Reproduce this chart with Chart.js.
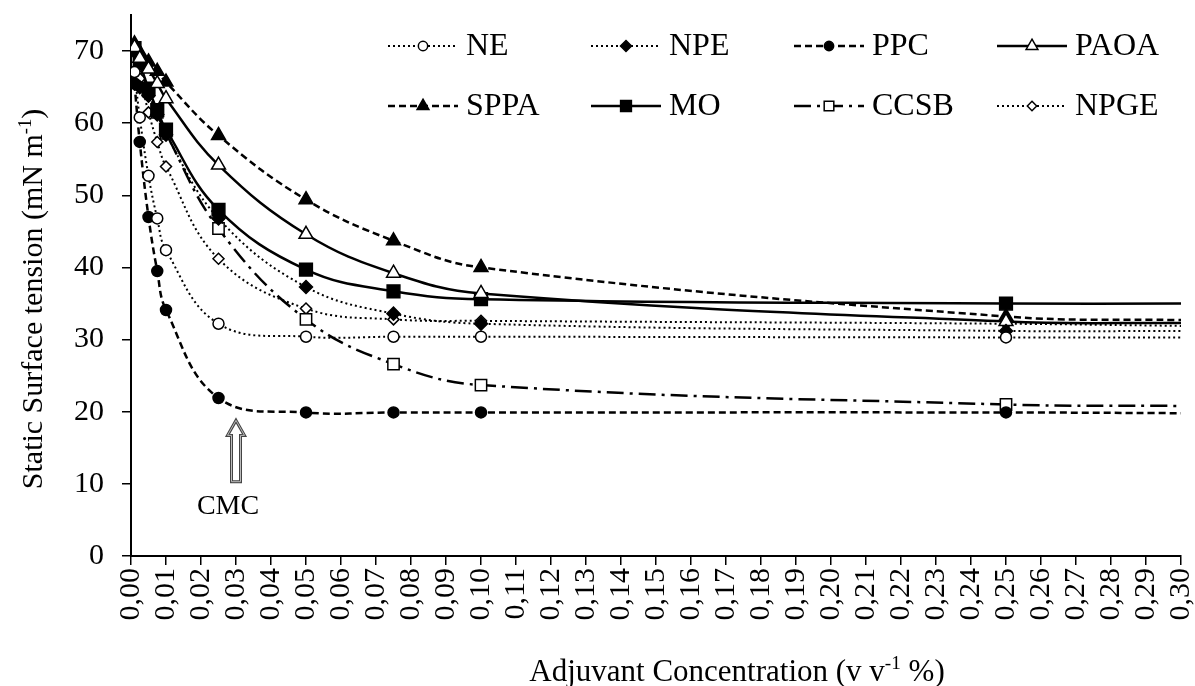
<!DOCTYPE html>
<html lang="en">
<head>
  <meta charset="UTF-8">
  <title>Static surface tension vs adjuvant concentration</title>
  <script src="https://cdn.jsdelivr.net/npm/chart.js"></script>
  <style>
    html, body { margin: 0; padding: 0; background: #fff; }
  </style>
</head>
<body>
  <canvas id="tensionChart" width="1195" height="686"></canvas>

  <script>
    // concentration (v v-1 %), last point is where the curves leave the plot
    const concentrations = [0.001, 0.0025, 0.005, 0.0075, 0.01, 0.025, 0.05, 0.075, 0.10, 0.25, 0.30];

    // static surface tension (mN m-1)
    const ne   = [67.1, 60.8, 52.7, 46.8, 42.4, 32.2, 30.4, 30.4, 30.4, 30.3, 30.3];
    const npe  = [65.5, 65.0, 63.8, 61.2, 58.4, 46.8, 37.3, 33.6, 32.2, 31.2, 31.2];
    const ppc  = [65.5, 57.4, 47.0, 39.5, 34.1, 21.9, 19.9, 19.9, 19.9, 19.9, 19.8];
    const paoa = [70.5, 69.0, 67.5, 65.5, 63.4, 54.2, 44.6, 39.2, 36.4, 32.5, 32.3];
    const sppa = [71.0, 69.8, 68.5, 67.2, 65.7, 58.3, 49.4, 43.7, 40.0, 33.2, 32.7];
    const mo   = [70.4, 68.3, 64.8, 61.8, 59.1, 48.0, 39.7, 36.7, 35.6, 35.0, 35.0];
    const ccsb = [70.2, 68.0, 64.5, 61.5, 58.6, 45.4, 32.8, 26.6, 23.7, 21.0, 20.8];
    const npge = [67.3, 66.2, 61.5, 57.4, 54.0, 41.2, 34.3, 32.8, 32.6, 32.2, 31.9];

    const seriesNames = ['NE', 'NPE', 'PPC', 'PAOA', 'SPPA', 'MO', 'CCSB', 'NPGE'];
    const seriesValues = [ne, npe, ppc, paoa, sppa, mo, ccsb, npge];

    const xTickStep = 0.01;
    const yTickStep = 10;
    const cmcConcentration = 0.030;

    const serif = '"Liberation Serif", "Times New Roman", serif';
    const DOT = [2, 3], DASH = [7, 4], SOLID = [], DASHDOT = [17, 6, 3, 6];

    const looks = {
      NE:   { dash: DOT,     width: 2,   point: 'circle',   r: 5.5, fill: '#fff' },
      NPE:  { dash: DOT,     width: 2,   point: 'rectRot',  r: 6.5, fill: '#000' },
      PPC:  { dash: DASH,    width: 2.5, point: 'circle',   r: 5.5, fill: '#000' },
      PAOA: { dash: SOLID,   width: 2.5, point: 'triangle', r: 8,   fill: '#fff' },
      SPPA: { dash: DASH,    width: 2.5, point: 'triangle', r: 8,   fill: '#000' },
      MO:   { dash: SOLID,   width: 2.5, point: 'rect',     r: 9,   fill: '#000' },
      CCSB: { dash: DASHDOT, width: 2.5, point: 'rect',     r: 8,   fill: '#fff' },
      NPGE: { dash: DOT,     width: 2,   point: 'rectRot',  r: 5.5, fill: '#fff' },
    };

    const lastIndex = concentrations.length - 1;

    const datasets = seriesNames.map((name, i) => {
      const lk = looks[name];
      return {
        label: name,
        data: concentrations.map((c, j) => ({ x: c, y: seriesValues[i][j] })),
        borderColor: '#000',
        borderWidth: lk.width,
        borderDash: lk.dash,
        tension: 0.4,
        fill: false,
        pointStyle: lk.point,
        pointRadius: (ctx) => ctx.dataIndex === lastIndex ? 0 : lk.r,
        pointBackgroundColor: lk.fill,
        pointBorderColor: '#000',
        pointBorderWidth: 1.5,
      };
    });

    // text with a superscript part, centred on cx
    function drawSupText(ctx, pieces, size, cx, baseline) {
      const widths = pieces.map(p => {
        ctx.font = (p.sup ? size * 0.62 : size) + 'px ' + serif;
        return ctx.measureText(p.text).width;
      });
      let x = cx - widths.reduce((a, b) => a + b, 0) / 2;
      pieces.forEach((p, i) => {
        ctx.font = (p.sup ? size * 0.62 : size) + 'px ' + serif;
        ctx.fillText(p.text, x, p.sup ? baseline - size * 0.38 : baseline);
        x += widths[i];
      });
    }

    function marker(ctx, style, x, y, r, fill) {
      ctx.save();
      ctx.setLineDash([]);
      ctx.lineWidth = 1.5;
      ctx.strokeStyle = '#000';
      ctx.fillStyle = fill;
      ctx.beginPath();
      if (style === 'circle') {
        ctx.arc(x, y, r, 0, Math.PI * 2);
      } else if (style === 'rect') {
        const s = r * Math.SQRT1_2;
        ctx.rect(x - s, y - s, 2 * s, 2 * s);
      } else if (style === 'rectRot') {
        ctx.moveTo(x, y - r); ctx.lineTo(x + r, y); ctx.lineTo(x, y + r); ctx.lineTo(x - r, y);
        ctx.closePath();
      } else if (style === 'triangle') {
        ctx.moveTo(x, y - r);
        ctx.lineTo(x + r * Math.sin(Math.PI * 2 / 3), y + r / 2);
        ctx.lineTo(x - r * Math.sin(Math.PI * 2 / 3), y + r / 2);
        ctx.closePath();
      }
      ctx.fill();
      ctx.stroke();
      ctx.restore();
    }

    const extras = {
      id: 'extras',
      afterDraw(chart) {
        const ctx = chart.ctx;
        ctx.save();
        ctx.fillStyle = '#000';
        ctx.textAlign = 'left';
        ctx.textBaseline = 'alphabetic';

        // axis titles
        ctx.save();
        ctx.translate(42, 299);
        ctx.rotate(-Math.PI / 2);
        drawSupText(ctx, [{ text: 'Static Surface tension (mN m' }, { text: '-1', sup: true }, { text: ')' }], 30, 0, 0);
        ctx.restore();
        drawSupText(ctx, [{ text: 'Adjuvant Concentration (v v' }, { text: '-1', sup: true }, { text: ' %)' }], 31, 737, 681);

        // legend, 4 columns x 2 rows
        const colX = [388, 591, 794, 997];
        const rowY = [46, 106];
        const sampleLen = 70;
        seriesNames.forEach((name, i) => {
          const lk = looks[name];
          const x0 = colX[i % 4], y0 = rowY[Math.floor(i / 4)];
          ctx.save();
          ctx.strokeStyle = '#000';
          ctx.lineWidth = lk.width;
          ctx.setLineDash(lk.dash);
          ctx.beginPath();
          ctx.moveTo(x0, y0);
          ctx.lineTo(x0 + sampleLen, y0);
          ctx.stroke();
          ctx.restore();
          marker(ctx, lk.point, x0 + sampleLen / 2, y0, lk.r * 0.85, lk.fill);
          ctx.font = '32px ' + serif;
          ctx.textBaseline = 'middle';
          ctx.fillText(name, x0 + sampleLen + 8, y0 + 1);
        });

        // CMC arrow
        const xs = chart.scales.x, ys = chart.scales.y;
        const ax = xs.getPixelForValue(cmcConcentration);
        const tip = ys.getPixelForValue(18.8);
        const base = ys.getPixelForValue(10.3);
        const headBase = tip + 15;
        ctx.beginPath();
        ctx.moveTo(ax, tip);
        ctx.lineTo(ax + 8.5, headBase);
        ctx.lineTo(ax + 4.5, headBase);
        ctx.lineTo(ax + 4.5, base);
        ctx.lineTo(ax - 4.5, base);
        ctx.lineTo(ax - 4.5, headBase);
        ctx.lineTo(ax - 8.5, headBase);
        ctx.closePath();
        ctx.fillStyle = '#fff';
        ctx.fill();
        ctx.lineWidth = 3;
        ctx.strokeStyle = '#444';
        ctx.stroke();
        ctx.lineWidth = 1;
        ctx.strokeStyle = '#bbb';
        ctx.stroke();

        ctx.fillStyle = '#000';
        ctx.font = '28px ' + serif;
        ctx.textAlign = 'center';
        ctx.textBaseline = 'alphabetic';
        ctx.fillText('CMC', ax - 8, base + 32);
        ctx.restore();
      }
    };

    const tensionChart = new Chart(document.getElementById('tensionChart').getContext('2d'), {
      type: 'line',
      data: { datasets: datasets },
      plugins: [extras],
      options: {
        responsive: false,
        animation: false,
        layout: { padding: { top: 15, right: 14, left: 0, bottom: 0 } },
        plugins: {
          legend: { display: false },
          tooltip: { enabled: false },
        },
        scales: {
          x: {
            type: 'linear',
            min: 0,
            max: 0.30,
            afterFit: (s) => { s.height = 130; s.paddingLeft = 0; s.paddingRight = 10; },
            border: { display: true, color: '#000', width: 2 },
            grid: { drawOnChartArea: false, drawTicks: true, tickLength: 9, color: '#000', lineWidth: 1.5 },
            ticks: {
              stepSize: xTickStep,
              autoSkip: false,
              maxRotation: 90,
              minRotation: 90,
              padding: 3,
              color: '#000',
              font: { family: serif, size: 30 },
              callback: (v) => v.toFixed(2).replace('.', ','),
            },
          },
          y: {
            min: 0,
            max: 75,
            afterFit: (s) => { s.width = 131; s.paddingTop = 0; s.paddingBottom = 0; },
            afterBuildTicks: (s) => { s.ticks = s.ticks.filter(t => t.value <= 70); },
            border: { display: true, color: '#000', width: 2 },
            grid: { drawOnChartArea: false, drawTicks: true, tickLength: 9, color: '#000', lineWidth: 1.5 },
            ticks: {
              stepSize: yTickStep,
              padding: 18,
              color: '#000',
              font: { family: serif, size: 30 },
            },
          },
        },
      },
    });
  </script>
</body>
</html>
